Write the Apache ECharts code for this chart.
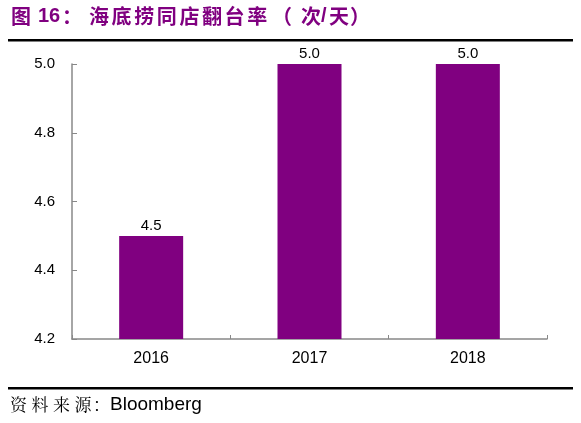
<!DOCTYPE html>
<html><head><meta charset="utf-8">
<script src="https://cdn.jsdelivr.net/npm/echarts@6/dist/echarts.min.js"></script>
<style>html,body{margin:0;padding:0;background:#fff}#c{width:581px;height:423px}</style>
</head><body><div id="c"></div>
<script>
const categories = ['2016', '2017', '2018'];
const values = [4.5, 5.0, 5.0];
const yTicks = [4.2, 4.4, 4.6, 4.8, 5.0];
const titleParts = ['图', '16', '：', '海', '底', '捞', '同', '店', '翻', '台', '率', '（', '次', '/', '天', '）'];
const sourceParts = ['资', '料', '来', '源', '：'];
const sourceName = 'Bloomberg';

// layout (x positions of title / source pieces)
const titleX = [11, 38, 62, 89, 111.6, 134.2, 156.8, 179.4, 202, 224.6, 247.2, 272, 301, 321, 329, 350];
const sourceX = [10, 31.5, 53, 74.5, 93];

const purple = '#800080';
const titleFont = 'bold 20px "Noto Sans CJK SC", "Liberation Sans", sans-serif';
const graphics = [];
titleParts.forEach((t, i) => {
  const latin = /^[0-9\/]+$/.test(t);
  graphics.push({type: 'text', x: titleX[i], y: 16, style: {text: t, fill: purple,
    verticalAlign: 'middle',
    font: latin ? 'bold 20px "Liberation Sans", Arial, sans-serif' : titleFont}});
});
graphics.push({type: 'rect', shape: {x: 8, y: 39, width: 565, height: 2.5}, style: {fill: '#000'}});
graphics.push({type: 'rect', shape: {x: 8, y: 387, width: 565, height: 2.5}, style: {fill: '#000'}});
sourceParts.forEach((t, i) => {
  graphics.push({type: 'text', x: sourceX[i], y: 405, style: {text: t, fill: '#000',
    verticalAlign: 'middle',
    font: '17px "Noto Serif CJK SC", "Noto Sans CJK SC", serif'}});
});
graphics.push({type: 'text', x: 110, y: 405, style: {text: sourceName, fill: '#000',
  verticalAlign: 'middle', font: '19px "Liberation Sans", Arial, sans-serif'}});

const chart = echarts.init(document.getElementById('c'), null, {renderer: 'canvas'});
chart.setOption({
  animation: false,
  backgroundColor: '#fff',
  grid: {left: 72, right: 34, top: 64, bottom: 84},
  xAxis: {
    type: 'category', data: categories,
    axisLine: {lineStyle: {color: '#888', width: 1.5}},
    axisTick: {show: true, inside: true, length: 4, alignWithLabel: false, lineStyle: {color: '#888'}},
    axisLabel: {color: '#000', fontSize: 16, fontFamily: 'Liberation Sans, Arial', margin: 12}
  },
  yAxis: {
    type: 'value', min: yTicks[0], max: yTicks[yTicks.length - 1], interval: 0.2,
    axisLine: {show: true, lineStyle: {color: '#888', width: 1.5}},
    axisTick: {show: true, inside: true, length: 5, lineStyle: {color: '#888'}},
    splitLine: {show: false},
    axisLabel: {color: '#000', fontSize: 15, fontFamily: 'Liberation Sans, Arial', margin: 17,
      formatter: v => v.toFixed(1)}
  },
  series: [{
    type: 'bar', data: values, barWidth: 64,
    itemStyle: {color: purple},
    label: {show: true, position: 'top', color: '#000', fontSize: 15, fontFamily: 'Liberation Sans, Arial',
      distance: 3, formatter: p => p.value.toFixed(1)}
  }],
  graphic: graphics
});
</script></body></html>
